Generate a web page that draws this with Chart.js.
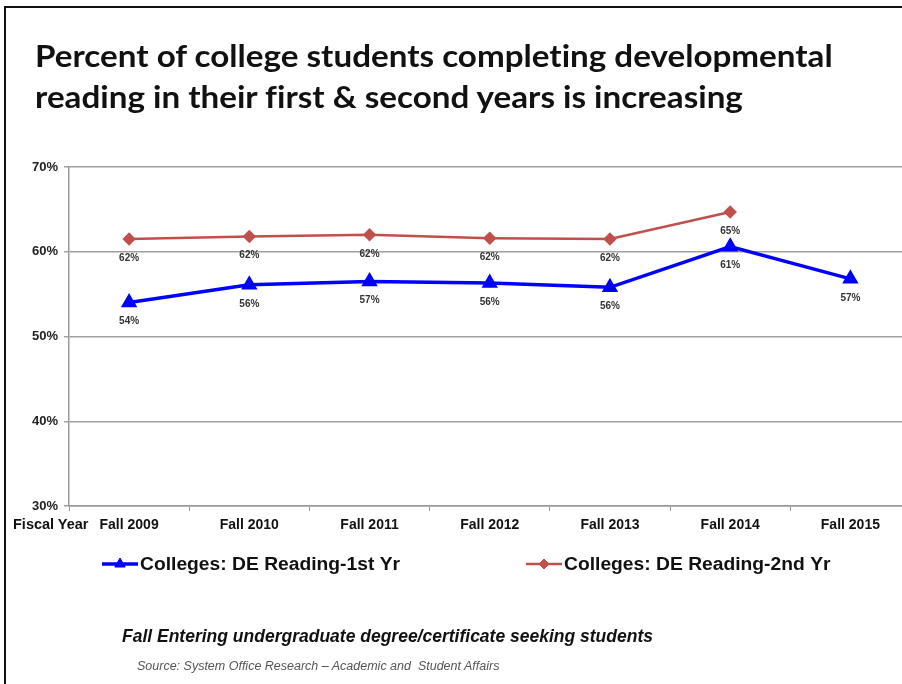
<!DOCTYPE html>
<html>
<head>
<meta charset="utf-8">
<script src="https://cdn.jsdelivr.net/npm/chart.js@4/dist/chart.umd.min.js"></script>
<style>
  html, body { margin: 0; padding: 0; width: 902px; height: 684px; overflow: hidden; background: #fff; }
  #frame { position: absolute; left: 4px; top: 6px; width: 920px; height: 700px; border-left: 2px solid #111; border-top: 2px solid #111; }
  #title { position: absolute; left: 35px; top: 35px; font-family: Lato, "Open Sans", sans-serif; font-weight: bold; font-size: 31px; line-height: 41px; font-variant-ligatures: none; color: #111; white-space: nowrap; transform: scaleX(1.07); transform-origin: left top; }
  #fiscal { position: absolute; left: 13px; top: 516px; font-family: "Liberation Sans", Arial, sans-serif; font-weight: bold; font-size: 14.5px; color: #111; }
  #note { position: absolute; left: 122px; top: 626px; font-family: "Liberation Sans", Arial, sans-serif; font-weight: bold; font-style: italic; font-size: 17.5px; line-height: 20px; color: #111; white-space: nowrap; }
  #source { position: absolute; left: 137px; top: 659px; font-family: "Liberation Sans", Arial, sans-serif; font-style: italic; font-size: 12.5px; line-height: 15px; color: #555; white-space: nowrap; }
  #wrap { position: absolute; left: 0; top: 0; width: 920px; height: 684px; }
</style>
</head>
<body>
<div id="frame"></div>
<div id="wrap"><canvas id="chart" width="920" height="684"></canvas></div>
<div id="title">Percent of college students completing developmental<br>reading in their first &amp; second years is increasing</div>
<div id="fiscal">Fiscal Year</div>
<div id="note">Fall Entering undergraduate degree/certificate seeking students</div>
<div id="source">Source: System Office Research – Academic and&nbsp; Student Affairs</div>
<script>
// Data
const years = ['Fall 2009', 'Fall 2010', 'Fall 2011', 'Fall 2012', 'Fall 2013', 'Fall 2014', 'Fall 2015'];
const firstYr = [54.0, 56.1, 56.5, 56.3, 55.8, 60.6, 56.8];
const secondYr = [61.5, 61.8, 62.0, 61.6, 61.5, 64.7, null];
const seriesNames = ['Colleges: DE Reading-1st Yr', 'Colleges: DE Reading-2nd Yr'];
const yTicks = [30, 40, 50, 60, 70];

const BLUE = '#0000ff';
const RED = '#c0504d';

// value labels under each point
const valueLabels = {
    id: 'valueLabels',
    afterDatasetsDraw(chart) {
        const ctx = chart.ctx;
        ctx.save();
        ctx.font = 'bold 10px "Liberation Sans", Arial, sans-serif';
        ctx.fillStyle = '#333';
        ctx.textAlign = 'center';
        ctx.textBaseline = 'middle';
        chart.data.datasets.forEach((ds, i) => {
            chart.getDatasetMeta(i).data.forEach((pt, j) => {
                const v = ds.data[j];
                if (v === null || v === undefined) return;
                ctx.fillText(Math.round(v) + '%', pt.x, pt.y + 19);
            });
        });
        ctx.restore();
    }
};

// legend drawn as line + marker like the original
const lineLegend = {
    id: 'lineLegend',
    afterDraw(chart) {
        const ctx = chart.ctx;
        const items = [
            { x: 102, ds: chart.data.datasets[0] },
            { x: 526, ds: chart.data.datasets[1] }
        ];
        const y = 564;
        ctx.save();
        items.forEach(it => {
            ctx.strokeStyle = it.ds.borderColor;
            ctx.lineWidth = it.ds.borderWidth;
            ctx.beginPath();
            ctx.moveTo(it.x, y);
            ctx.lineTo(it.x + 36, y);
            ctx.stroke();
            ctx.fillStyle = it.ds.borderColor;
            ctx.strokeStyle = it.ds.borderColor;
            ctx.lineWidth = 1;
            Chart.helpers.drawPoint(ctx, {
                pointStyle: it.ds.pointStyle,
                radius: it.ds.pointRadius,
                borderWidth: 1
            }, it.x + 18, y);
            ctx.save();
            ctx.translate(it.x + 38, y + 1);
            ctx.scale(1.07, 1);
            ctx.fillStyle = '#111';
            ctx.font = 'bold 18px "Liberation Sans", Arial, sans-serif';
            ctx.textAlign = 'left';
            ctx.textBaseline = 'middle';
            ctx.fillText(it.ds.label, 0, 0);
            ctx.restore();
        });
        ctx.restore();
    }
};

new Chart(document.getElementById('chart').getContext('2d'), {
    type: 'line',
    data: {
        labels: years,
        datasets: [
            {
                label: seriesNames[0],
                data: firstYr,
                borderColor: BLUE,
                backgroundColor: BLUE,
                pointBackgroundColor: BLUE,
                pointBorderColor: BLUE,
                pointStyle: 'triangle',
                pointRadius: 6,
                borderWidth: 3.5,
                tension: 0
            },
            {
                label: seriesNames[1],
                data: secondYr,
                borderColor: RED,
                backgroundColor: RED,
                pointBackgroundColor: RED,
                pointBorderColor: RED,
                pointStyle: 'rectRot',
                pointRadius: 5,
                borderWidth: 2.5,
                tension: 0
            }
        ]
    },
    options: {
        responsive: false,
        animation: false,
        layout: { padding: { left: 0, top: 167, right: 4, bottom: 138 } },
        scales: {
            x: {
                offset: true,
                grid: { offset: true, drawOnChartArea: false, drawTicks: true, tickLength: 5, color: '#999', lineWidth: 1 },
                border: { color: '#999', width: 1.5 },
                ticks: {
                    color: '#111',
                    padding: 6,
                    font: { family: '"Liberation Sans", Arial', weight: 'bold', size: 14 }
                },
                afterFit(scale) { scale.height = 40; }
            },
            y: {
                min: yTicks[0],
                max: yTicks[yTicks.length - 1],
                afterBuildTicks(scale) { scale.ticks = yTicks.map(v => ({ value: v })); },
                grid: { color: '#a0a0a0', lineWidth: 1.5, tickLength: 5 },
                border: { color: '#999', width: 1.5 },
                ticks: {
                    color: '#222',
                    padding: 6,
                    font: { family: '"Liberation Sans", Arial', weight: 'bold', size: 13 },
                    callback: v => v + '%'
                },
                afterFit(scale) { scale.width = 69; }
            }
        },
        plugins: {
            legend: { display: false },
            tooltip: { enabled: false }
        }
    },
    plugins: [valueLabels, lineLegend]
});
</script>
</body>
</html>
